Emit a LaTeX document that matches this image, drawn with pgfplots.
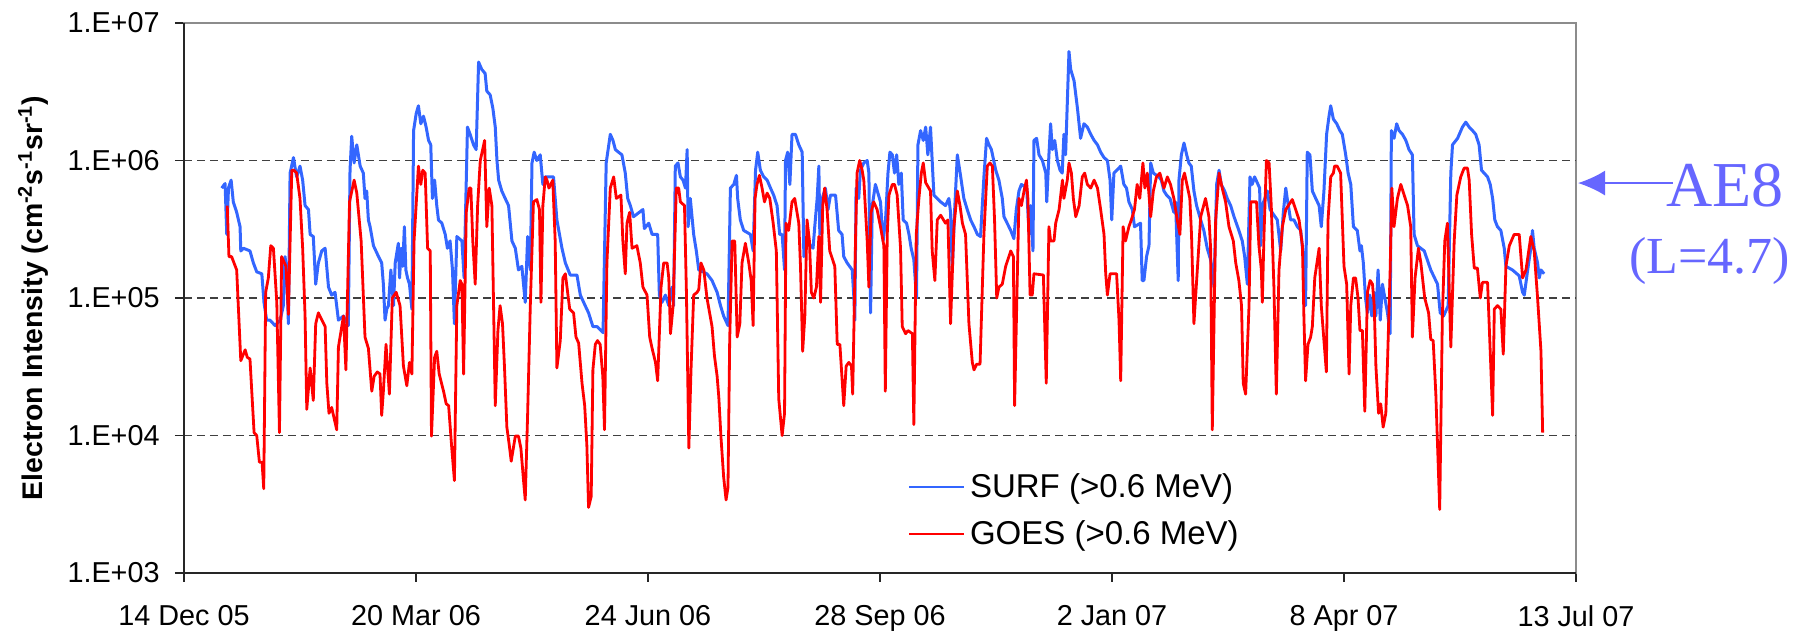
\documentclass[border=0pt]{standalone}
\usepackage{pgfplots}
\pgfplotsset{compat=1.18}
\usepackage{pgfplotstable}
\usetikzlibrary{arrows.meta}
\usepackage{fontspec}
\setmainfont{Liberation Sans}
\newfontfamily\timesfont{Liberation Serif}
\definecolor{surfblue}{RGB}{51,102,255}
\definecolor{goesred}{RGB}{255,0,0}
\definecolor{ae8}{RGB}{102,102,255}

\pgfplotstableread{
d v
15.6 6.3e5
17.0 6.8e5
17.7 2.9e5
18.4 6.3e5
19.5 7.2e5
20.4 5.0e5
21.8 4.2e5
23.2 3.3e5
23.5 2.2e5
24.6 2.3e5
27.3 2.2e5
28.7 1.8e5
30.1 1.55e5
32.2 1.5e5
33.1 9.3e4
34.2 6.9e4
35.6 6.9e4
37.7 6.3e4
39.8 6.9e4
41.1 8.8e4
41.8 2.0e5
42.5 1.6e5
43.2 6.5e4
43.9 8.1e5
45.3 1.05e6
46.6 7.6e5
48.0 9.1e5
49.1 7.2e5
50.1 4.7e5
51.5 4.4e5
52.2 2.9e5
53.5 2.8e5
54.5 1.26e5
55.6 1.8e5
57.0 2.2e5
58.4 2.3e5
59.8 1.2e5
61.1 1.05e5
62.5 1.1e5
63.9 6.9e4
66.0 7.4e4
68.0 6.3e4
68.7 8.5e5
69.4 1.5e6
70.4 9.6e5
71.5 1.3e6
72.9 9.1e5
74.2 8.1e5
74.9 5.3e5
75.6 6.0e5
76.3 3.7e5
77.0 3.3e5
78.4 2.4e5
80.5 2.0e5
81.8 1.8e5
82.5 1.26e5
83.2 6.9e4
83.9 8.3e4
84.6 8.8e4
85.6 1.6e5
86.7 8.8e4
87.4 1.8e5
88.7 2.5e5
89.2 1.4e5
89.9 2.3e5
90.5 1.7e5
91.2 3.3e5
91.8 1.6e5
92.5 1.4e5
93.3 1.26e5
94.3 8.3e4
95.0 1.65e6
96.1 2.2e6
97.0 2.5e6
98.0 1.85e6
99.1 2.1e6
100.2 1.75e6
101.2 1.4e6
102.1 1.3e6
102.8 5.3e5
103.7 7.2e5
104.6 4.7e5
105.3 3.7e5
106.7 3.5e5
108.1 2.9e5
109.0 2.3e5
110.1 2.6e5
111.1 1.6e5
111.9 6.5e4
112.9 2.8e5
115.0 2.6e5
115.9 1.4e5
117.3 1.75e6
118.4 1.55e6
119.8 1.3e6
120.9 1.2e6
121.9 5.2e6
123.2 4.6e6
124.6 4.3e6
125.3 3.2e6
126.7 3.0e6
127.8 2.4e6
128.8 1.75e6
129.5 1.0e6
130.2 7.2e5
131.5 6.0e5
132.9 5.3e5
134.3 4.7e5
135.7 2.6e5
137.1 2.3e5
138.4 1.6e5
139.8 1.7e5
141.2 9.3e4
142.2 2.8e5
143.3 1.6e5
144.0 9.6e5
144.9 1.15e6
146.0 1.0e6
147.4 1.1e6
148.5 6.7e5
149.5 7.6e5
152.9 7.6e5
154.3 3.7e5
156.4 2.3e5
157.8 1.8e5
159.8 1.47e5
162.6 1.47e5
164.0 1.05e5
166.0 8.8e4
167.4 7.8e4
169.2 6.2e4
170.9 6.2e4
173.4 5.6e4
174.7 9.6e5
176.4 1.55e6
177.5 1.4e6
178.5 1.2e6
179.8 1.15e6
181.2 1.1e6
182.6 8.1e5
183.6 5.3e5
184.7 4.7e5
186.0 3.9e5
189.9 4.4e5
190.5 3.2e5
192.3 3.5e5
193.7 2.9e5
196.0 2.9e5
196.7 1.05e5
197.8 9.3e4
199.2 1.05e5
200.6 8.8e4
201.9 1.2e5
202.6 8.8e4
203.3 9.1e5
204.4 9.6e5
205.4 7.6e5
206.5 7.2e5
207.5 6.3e5
208.2 1.2e6
208.6 3.3e5
209.5 5.3e5
210.9 2.9e5
212.0 2.2e5
213.0 1.6e5
216.4 1.5e5
218.5 1.34e5
220.6 1.1e5
222.0 8.8e4
223.3 7.4e4
225.1 6.3e4
226.1 6.3e5
227.5 6.7e5
228.6 7.8e5
229.1 5.3e5
230.2 3.7e5
231.6 3.1e5
234.4 2.9e5
235.5 2.2e5
236.5 8.5e5
237.4 1.15e6
238.5 8.5e5
239.9 7.6e5
241.3 7.2e5
242.7 6.3e5
244.0 5.6e5
245.4 4.7e5
246.5 2.9e5
247.5 2.9e5
248.5 1.6e5
248.9 1.0e6
249.8 1.15e6
250.7 6.7e5
251.6 1.55e6
253.0 1.55e6
254.4 1.3e6
255.8 1.15e6
256.5 2.0e5
257.6 2.6e5
260.3 2.3e5
261.0 3.3e5
262.0 5.3e5
262.7 9.1e5
263.1 2.9e5
264.1 5.3e5
265.4 6.3e5
266.5 4.4e5
267.5 5.6e5
269.6 5.6e5
270.9 3.1e5
272.3 2.9e5
273.0 2.0e5
274.4 1.8e5
276.5 1.6e5
277.2 1.0e5
277.6 6.9e4
278.1 6.3e5
279.2 5.3e5
279.9 8.5e5
281.3 9.6e5
282.7 1.0e6
283.4 8.1e5
284.1 7.8e4
284.8 4.7e5
286.1 6.7e5
288.2 5.0e5
289.3 2.6e5
290.3 3.7e5
291.3 8.1e5
292.1 1.15e6
293.1 1.1e6
294.0 8.1e5
294.9 1.1e6
295.8 6.7e5
296.8 8.1e5
297.6 3.7e5
299.0 3.5e5
300.0 2.9e5
300.9 2.3e5
302.0 1.9e5
303.1 1.0e5
303.7 1.3e6
304.8 1.65e6
305.9 1.4e6
306.9 1.75e6
307.8 1.1e6
308.9 1.75e6
310.3 5.6e5
313.1 5.0e5
315.1 4.7e5
316.5 5.3e5
317.2 4.2e5
317.9 1.6e5
318.9 4.4e5
320.0 1.1e6
321.4 7.6e5
322.7 5.3e5
324.1 4.4e5
325.5 3.7e5
326.9 3.3e5
328.3 2.9e5
329.6 2.8e5
331.0 7.6e5
332.1 1.45e6
333.1 1.3e6
334.1 1.2e6
335.9 8.5e5
337.2 7.2e5
338.6 5.3e5
339.3 3.9e5
342.1 3.1e5
343.4 2.7e5
344.4 4.4e5
345.5 6.0e5
346.5 6.7e5
348.7 6.3e5
349.7 2.9e5
350.3 4.7e5
351.3 2.2e5
351.7 1.4e6
352.8 1.45e6
353.8 1.1e6
355.2 1.0e6
356.6 8.1e5
357.0 5.0e5
357.9 1.1e6
358.6 1.85e6
359.3 1.2e6
360.3 1.4e6
361.4 1.0e6
362.5 8.5e5
363.4 8.1e5
364.1 1.55e6
364.8 1.1e6
366.2 6.2e6
366.9 4.6e6
368.3 3.8e6
369.7 2.4e6
371.0 1.45e6
372.4 1.85e6
373.8 1.75e6
375.2 1.55e6
376.6 1.4e6
378.0 1.3e6
379.3 1.15e6
380.7 1.05e6
382.1 1.0e6
383.2 7.2e5
383.9 3.7e5
384.8 8.1e5
387.6 9.1e5
388.9 6.7e5
390.0 6.3e5
391.0 5.0e5
392.4 4.4e5
393.3 3.3e5
395.8 3.5e5
396.5 1.34e5
397.2 1.34e5
398.3 2.0e5
399.3 2.4e5
400.0 9.6e5
401.1 8.1e5
403.4 7.6e5
404.4 7.2e5
405.5 6.0e5
406.6 5.6e5
408.0 5.3e5
409.6 4.2e5
410.3 5.0e5
411.4 1.34e5
411.7 7.2e5
412.7 1.1e6
413.8 1.34e6
414.9 1.1e6
415.8 9.6e5
416.8 9.1e5
417.9 6.0e5
419.0 4.7e5
420.7 3.7e5
422.0 3.1e5
423.4 2.3e5
424.8 1.9e5
425.5 1.6e5
426.2 1.2e5
427.3 6.7e5
428.3 8.5e5
429.2 6.7e5
430.6 6.0e5
431.7 5.3e5
433.1 4.7e5
434.5 3.9e5
436.5 3.1e5
437.9 2.6e5
438.9 2.0e5
440.0 1.26e5
441.1 7.6e5
442.0 6.7e5
443.0 7.6e5
445.1 6.3e5
445.5 2.4e5
446.2 4.7e5
448.3 6.0e5
449.4 4.4e5
452.4 3.7e5
453.8 2.2e5
454.9 4.2e5
455.9 6.3e5
456.5 5.3e5
457.9 3.7e5
459.3 3.7e5
460.7 3.3e5
462.1 3.1e5
463.4 1.8e5
464.1 8.8e4
464.8 1.15e6
465.9 1.1e6
466.9 6.0e5
468.3 5.3e5
469.7 4.7e5
470.6 3.3e5
471.7 6.0e5
472.8 1.55e6
473.8 2.1e6
474.5 2.5e6
475.6 2.0e6
477.0 1.85e6
478.3 1.65e6
479.3 1.55e6
480.7 1.1e6
481.7 8.1e5
482.8 6.7e5
483.9 3.3e5
485.5 3.1e5
486.6 2.2e5
487.2 2.4e5
488.0 1.8e5
488.9 1.0e5
489.7 7.8e4
490.7 1.05e5
491.5 7.4e4
492.5 1.1e5
493.2 7.4e4
494.1 1.6e5
495.0 6.9e4
495.9 1.26e5
496.9 1.0e5
498.0 7.8e4
499.1 5.5e4
499.6 1.65e6
500.7 1.45e6
501.8 1.85e6
502.8 1.65e6
504.2 1.55e6
505.6 1.4e6
506.9 1.2e6
508.3 1.1e6
509.0 2.9e5
510.4 2.4e5
513.2 2.2e5
515.9 1.6e5
518.7 1.26e5
519.8 7.8e4
521.2 7.4e4
523.1 8.8e4
524.2 8.1e5
524.9 1.3e6
527.0 1.45e6
529.0 1.75e6
530.4 1.9e6
531.8 1.75e6
533.2 1.65e6
534.5 1.55e6
535.9 1.3e6
536.9 8.5e5
539.4 7.6e5
540.5 6.7e5
541.5 5.3e5
542.4 3.7e5
543.5 3.3e5
544.9 3.1e5
546.3 2.3e5
547.0 1.7e5
549.7 1.6e5
552.5 1.45e5
553.9 1.1e5
554.6 1.05e5
556.0 1.6e5
557.3 2.3e5
558.0 3.1e5
558.7 2.3e5
560.1 1.8e5
560.8 1.4e5
561.5 1.6e5
562.8 1.5e5
}\surf

\pgfplotstableread{
d v
17.9 4.7e5
18.6 2.0e5
19.7 2.0e5
21.8 1.6e5
23.5 3.5e4
25.3 4.2e4
26.2 3.7e4
27.3 3.6e4
29.0 1.05e4
30.1 1.0e4
31.2 6.4e3
32.3 6.4e3
33.0 4.1e3
33.8 1.1e5
34.9 1.4e5
35.9 2.4e5
37.0 2.3e5
38.4 9.3e4
39.5 1.05e4
40.4 2.0e5
42.2 1.7e5
43.2 7.6e4
44.6 8.5e5
45.5 8.5e5
46.6 8.1e5
48.0 5.3e5
49.1 2.3e5
50.1 7.4e4
50.8 1.55e4
52.2 3.1e4
53.5 1.8e4
54.5 6.5e4
55.6 7.8e4
58.4 6.2e4
59.1 2.4e4
60.0 1.45e4
61.1 1.6e4
63.2 1.1e4
63.9 4.4e4
66.0 7.4e4
67.0 3.0e4
68.5 5.0e5
70.4 7.2e5
71.5 5.8e5
73.3 2.6e5
74.9 5.2e4
76.3 4.3e4
77.7 2.1e4
78.7 2.7e4
80.0 2.9e4
81.1 2.8e4
81.8 1.4e4
82.5 2.1e4
83.6 4.6e4
85.0 2.0e4
86.2 1.0e5
87.8 1.1e5
89.4 8.8e4
90.8 3.2e4
92.2 2.3e4
93.3 3.4e4
94.3 2.8e4
95.2 2.6e5
97.0 9.1e5
98.0 6.7e5
98.8 8.5e5
99.8 8.1e5
100.8 2.3e5
101.9 2.2e5
102.4 9.9e3
103.7 3.7e4
104.6 4.1e4
105.6 2.8e4
107.4 2.1e4
108.5 1.7e4
109.5 1.65e4
110.8 8.1e3
111.9 4.7e3
112.9 8.8e4
114.3 1.34e5
115.0 1.26e5
115.7 2.8e4
116.8 4.2e5
118.0 6.3e5
118.7 6.3e5
119.5 2.6e5
120.5 1.26e5
121.5 4.7e5
122.6 1.0e6
124.4 1.4e6
125.3 3.3e5
126.3 6.3e5
127.4 4.7e5
128.8 1.65e4
129.9 5.8e4
130.8 8.8e4
131.8 6.5e4
132.6 3.2e4
133.6 1.15e4
134.6 8.5e3
135.4 6.5e3
137.1 9.9e3
138.4 9.9e3
139.4 8.1e3
140.5 4.7e3
141.2 3.4e3
142.2 1.45e4
143.3 8.8e4
144.6 5.0e5
146.0 5.2e5
147.1 4.4e5
147.7 9.3e4
148.5 4.7e5
149.5 7.6e5
150.2 7.2e5
151.0 6.3e5
152.6 7.2e5
153.6 2.6e5
154.3 3.1e4
155.7 4.9e4
156.8 1.4e5
157.8 1.5e5
159.6 8.3e4
161.2 7.8e4
162.2 5.2e4
163.3 4.7e4
164.7 2.4e4
165.8 1.65e4
166.7 8.5e3
167.4 3.0e3
168.5 3.6e3
169.2 3.0e4
170.2 4.6e4
171.1 4.9e4
172.2 4.6e4
173.3 2.7e4
174.0 1.1e4
175.0 1.8e5
176.4 6.3e5
177.8 7.6e5
178.9 5.3e5
180.8 5.6e5
181.6 2.6e5
182.6 1.5e5
183.3 3.5e5
184.4 4.2e5
185.4 2.3e5
187.4 2.4e5
188.8 1.8e5
189.9 1.2e5
191.6 1.05e5
192.7 5.2e4
193.7 4.3e4
195.1 3.4e4
196.0 2.5e4
197.4 1.2e5
198.5 1.8e5
199.9 1.8e5
200.6 1.4e5
201.3 5.5e4
202.4 8.8e4
203.7 6.3e5
204.7 6.3e5
205.4 5.0e5
207.1 4.7e5
207.9 1.1e5
208.9 8.1e3
209.8 3.0e4
210.9 1.05e5
212.3 1.1e5
213.0 1.15e5
213.9 1.8e5
215.1 1.6e5
216.4 1.0e5
218.5 6.2e4
219.5 3.8e4
220.6 2.7e4
221.3 1.9e4
222.2 9.7e3
223.3 5.0e3
224.3 3.4e3
225.1 4.2e3
225.8 4.9e4
226.8 2.6e5
227.9 2.6e5
228.9 5.2e4
230.0 6.5e4
230.9 1.8e5
232.3 2.5e5
233.7 1.8e5
234.7 1.34e5
235.5 6.3e4
236.3 5.3e5
237.1 6.7e5
238.1 7.8e5
239.2 6.3e5
240.2 5.0e5
241.3 5.8e5
242.4 5.3e5
243.8 3.5e5
245.1 2.2e5
246.1 1.85e4
247.5 1.0e4
248.5 1.45e4
249.1 3.5e5
250.2 3.1e5
251.6 5.0e5
252.7 5.3e5
254.4 3.5e5
255.1 1.7e5
256.0 4.1e4
256.9 7.4e4
257.8 3.7e5
258.8 2.6e5
259.6 1.1e5
260.6 1.0e5
261.7 1.2e5
262.7 2.8e5
263.4 9.3e4
264.3 4.7e5
265.1 6.3e5
266.1 4.4e5
267.2 2.2e5
269.3 1.7e5
270.3 4.6e4
271.4 4.6e4
273.0 1.65e4
274.0 3.2e4
275.1 3.4e4
276.2 3.2e4
276.7 2.0e4
277.9 2.8e5
278.5 8.1e5
279.6 1.0e6
280.6 8.5e5
281.3 7.2e5
282.7 2.6e5
283.4 1.2e5
284.3 4.2e5
285.4 5.0e5
286.8 4.4e5
288.2 3.3e5
289.6 2.4e5
290.2 2.1e4
291.0 2.9e5
291.7 5.6e5
293.1 6.7e5
294.0 6.7e5
295.1 5.6e5
296.5 2.3e5
297.2 6.2e4
298.6 5.5e4
299.6 5.8e4
301.4 5.5e4
302.0 1.2e4
303.0 2.9e5
304.1 5.3e5
305.1 8.1e5
305.9 9.6e5
306.9 6.9e5
308.9 6.0e5
309.6 2.2e5
310.7 1.34e5
311.7 3.7e5
313.1 4.0e5
315.1 3.5e5
316.1 3.7e5
317.2 6.5e4
318.6 3.3e5
320.0 6.0e5
321.1 4.7e5
322.1 3.5e5
323.4 2.9e5
324.8 6.5e4
326.2 3.4e4
326.9 3.0e4
328.0 3.3e4
329.4 3.3e4
331.0 2.9e5
332.4 9.1e5
333.5 9.6e5
334.5 9.1e5
335.4 3.7e5
336.3 1.0e5
337.2 1.2e5
338.6 1.26e5
340.0 1.7e5
342.1 2.2e5
343.2 2.0e5
343.7 1.65e4
345.5 5.3e5
346.5 4.7e5
347.6 6.0e5
348.6 7.2e5
349.2 5.3e5
350.1 1.05e5
351.0 1.05e5
351.7 1.5e5
355.6 1.47e5
356.8 2.4e4
357.9 3.3e5
358.6 2.6e5
360.0 2.6e5
360.7 3.5e5
362.1 4.4e5
363.5 7.2e5
364.1 5.3e5
365.5 7.2e5
366.2 9.6e5
367.2 8.1e5
368.0 5.3e5
369.0 3.9e5
370.4 4.7e5
371.7 7.6e5
372.7 8.1e5
373.8 6.7e5
375.2 6.3e5
376.6 7.2e5
378.0 6.3e5
379.3 4.4e5
380.7 2.9e5
381.4 1.5e5
382.1 1.05e5
383.2 1.5e5
385.9 1.5e5
386.9 6.9e4
387.6 2.5e4
388.6 3.3e5
389.6 2.6e5
391.0 3.3e5
392.0 3.7e5
393.3 4.4e5
394.4 6.7e5
395.5 5.3e5
396.8 9.6e5
397.6 6.3e5
398.6 8.1e5
400.0 3.9e5
401.1 6.0e5
402.4 7.6e5
403.8 8.1e5
405.5 6.3e5
406.9 7.6e5
408.2 6.7e5
409.6 5.3e5
411.0 3.7e5
412.1 2.9e5
413.1 7.2e5
414.0 8.1e5
416.2 5.3e5
416.9 2.9e5
417.9 6.5e4
419.3 1.6e5
420.7 3.9e5
422.7 5.3e5
424.1 3.9e5
424.8 2.3e5
425.5 1.1e4
426.9 3.7e5
428.3 8.1e5
429.6 6.3e5
431.0 5.0e5
432.4 3.3e5
434.2 2.6e5
435.2 1.8e5
436.5 1.34e5
437.6 8.8e4
438.3 2.4e4
439.3 2.0e4
440.7 8.8e4
441.4 5.0e5
443.8 5.0e5
444.8 2.4e5
445.8 1.6e5
446.2 9.3e4
446.9 2.9e5
447.9 1.0e6
449.0 9.6e5
449.9 4.7e5
451.0 1.2e5
452.0 2.0e4
453.1 1.6e5
454.5 3.3e5
455.9 4.4e5
458.6 5.2e5
460.0 4.4e5
461.4 3.7e5
462.8 2.4e5
463.4 7.4e4
464.1 2.5e4
465.1 4.6e4
466.2 5.2e4
466.9 6.2e4
467.9 1.4e5
469.7 2.3e5
470.6 8.8e4
471.7 4.9e4
472.7 2.9e4
473.4 3.7e5
474.5 7.6e5
475.6 8.1e5
476.1 9.1e5
477.2 9.1e5
478.6 8.1e5
480.0 1.7e5
481.1 1.26e5
482.1 2.8e4
482.8 8.8e4
483.9 1.4e5
484.8 1.4e5
485.8 1.0e5
486.6 5.8e4
487.6 5.8e4
488.6 1.5e4
489.7 1.1e5
490.8 1.34e5
491.8 1.26e5
492.5 8.8e4
493.2 3.2e4
494.3 1.45e4
495.2 1.7e4
496.2 1.15e4
497.3 1.45e4
498.0 3.4e4
499.1 1.6e5
499.8 6.3e5
500.7 3.3e5
502.1 5.3e5
503.5 6.7e5
504.9 5.6e5
506.3 4.7e5
507.6 3.3e5
508.3 5.2e4
509.4 1.4e5
510.8 2.3e5
511.8 1.8e5
513.4 1.0e5
515.0 7.8e4
515.9 5.0e4
516.9 4.9e4
518.0 2.0e4
519.6 2.9e3
520.7 7.4e4
521.7 2.6e5
522.8 3.5e5
524.2 4.4e4
525.6 2.6e5
526.7 5.6e5
528.3 7.6e5
529.7 8.8e5
531.1 8.8e5
531.8 7.2e5
532.8 2.9e5
533.9 1.65e5
535.2 1.65e5
536.4 1.0e5
537.3 1.3e5
539.4 1.3e5
540.5 4.1e4
541.5 1.4e4
542.2 8.3e4
543.5 8.8e4
544.9 8.3e4
545.9 3.9e4
547.0 1.7e5
548.4 2.4e5
550.4 2.9e5
552.5 2.9e5
553.9 1.4e5
555.3 1.6e5
557.3 2.8e5
558.7 2.2e5
560.1 1.0e5
561.5 4.1e4
562.2 1.05e4
}\goes

\begin{document}
\begin{tikzpicture}
\begin{axis}[
  scale only axis,
  width=696pt, height=275pt,
  xmin=0, xmax=576,
  ymode=log, ymin=1e3, ymax=1e7,
  clip=false,
  xtick={0,96,192,288,384,480,576},
  xticklabels={\mbox{14 Dec 05},\mbox{20 Mar 06},\mbox{24 Jun 06},\mbox{28 Sep 06},\mbox{2 Jan 07},\mbox{8 Apr 07},\mbox{13 Jul 07}},
  ytick={1e3,1e4,1e5,1e6,1e7},
  yticklabels={\mbox{1.E+03},\mbox{1.E+04},\mbox{1.E+05},\mbox{1.E+06},\mbox{1.E+07}},
  yminorticks=false, xminorticks=false,
  xtick pos=left, ytick pos=left,
  tick align=outside,
  major tick length=4.5pt,
  tick style={black!85, line width=0.8pt},
  axis line style={draw=black!45, line width=1pt},
  tick label style={font=\fontsize{14.4}{17}\selectfont, inner sep=0pt},
  yticklabel style={xshift=-7.5pt},
  xticklabel style={yshift=-11.5pt},
  extra y ticks={1e4,1e5,1e6},
  extra y tick labels={},
  extra y tick style={ymajorgrids=true, major tick length=0pt},
  major grid style={black!75, line width=0.6pt, dash pattern=on 4pt off 2.5pt},
  ylabel={Electron Intensity (cm\textsuperscript{-2}s\textsuperscript{-1}sr\textsuperscript{-1})},
  every axis y label/.style={at={(axis description cs:0,0.5)}, xshift=-75.5pt, rotate=90, anchor=center, font=\bfseries\fontsize{14.2}{17}\selectfont},
  legend style={at={(axis description cs:0.520,0.191)}, anchor=north west, draw=none, fill=none, inner sep=0pt, row sep=5pt, font=\fontsize{16.5}{19}\selectfont, nodes={inner sep=2.5pt}},
  legend cell align=left,
  legend image code/.code={\draw[#1, line width=0.9pt] (0pt,0pt) -- (27.5pt,0pt);},
]
\addplot[surfblue, line width=1.5pt, line join=round] table[x=d, y=v] {\surf};
\addlegendentry{SURF (>0.6 MeV)}
\addplot[goesred, line width=1.4pt, line join=round] table[x=d, y=v] {\goes};
\addlegendentry{GOES (>0.6 MeV)}
\draw[black!85, line width=1pt] (rel axis cs:0,1) -- (rel axis cs:0,0) -- (rel axis cs:1,0);
\coordinate (SW) at (rel axis cs:0,0);
\coordinate (NE) at (rel axis cs:1,1);
\coordinate (A) at (rel axis cs:1,0.709);
\end{axis}
\draw[ae8, line width=0.8pt, -{Latex[length=13.5pt,width=12.5pt]}] ([xshift=48.5pt]A) -- ([xshift=1pt]A);
\node[anchor=base west, inner sep=0pt, text=ae8, font=\timesfont\fontsize{32}{36}\selectfont] at ([xshift=45pt,yshift=-11.5pt]A) {AE8};
\node[anchor=base west, inner sep=0pt, text=ae8, font=\timesfont\fontsize{26}{30}\selectfont] at ([xshift=26.5pt,yshift=-45pt]A) {(L=4.7)};
\pgfresetboundingbox
\path ([xshift=-92pt,yshift=-28.5pt]SW) rectangle ([xshift=108.5pt,yshift=11.5pt]NE);
\end{tikzpicture}
\end{document}
